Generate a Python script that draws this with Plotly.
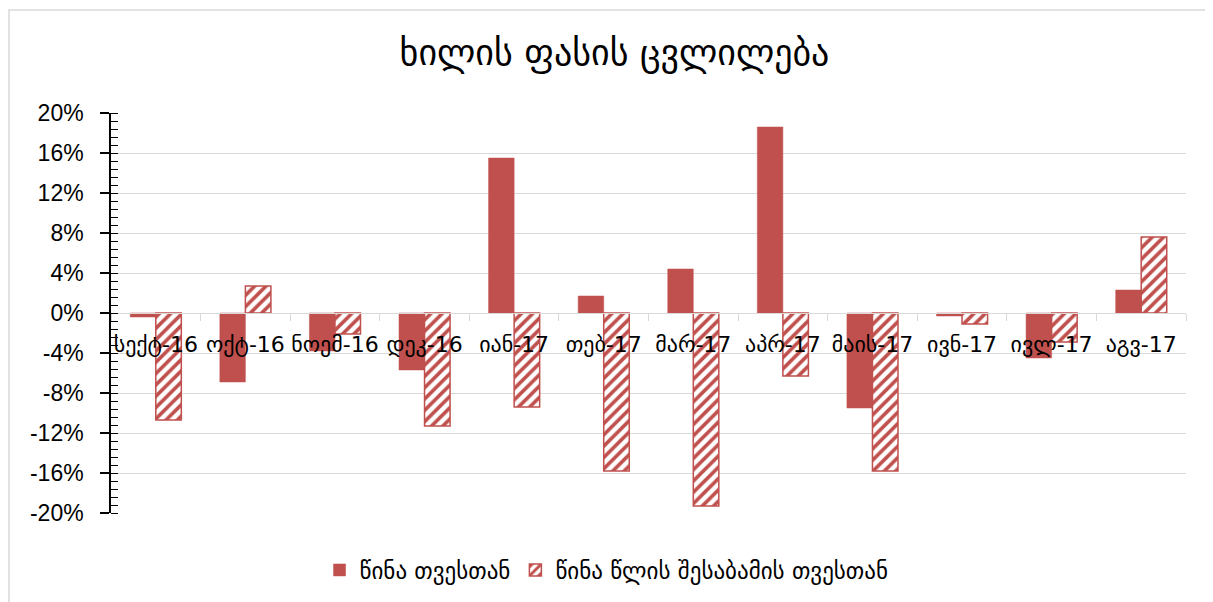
import plotly.graph_objects as go

categories = ["სექტ-16", "ოქტ-16", "ნოემ-16", "დეკ-16", "იან-17", "თებ-17",
              "მარ-17", "აპრ-17", "მაის-17", "ივნ-17", "ივლ-17", "აგვ-17"]
mom_change = [-0.4, -6.9, -3.8, -5.7, 15.5, 1.7, 4.4, 18.6, -9.5, -0.3, -4.5, 2.3]
yoy_change = [-10.7, 2.7, -2.1, -11.3, -9.4, -15.8, -19.3, -6.3, -15.8, -1.1, -2.9, 7.6]
series_names = ["წინა თვესთან", "წინა წლის შესაბამის თვესთან"]
title_text = "ხილის ფასის ცვლილება"
y_ticks = [-20, -16, -12, -8, -4, 0, 4, 8, 12, 16, 20]
y_tick_labels = ["-20%", "-16%", "-12%", "-8%", "-4%", "0%", "4%", "8%", "12%", "16%", "20%"]

RED = "#C0504D"
GEO_FONT = "DejaVu Sans"
NUM_FONT = "Liberation Sans"

fig = go.Figure()
fig.add_trace(go.Bar(
    x=categories, y=mom_change, name=series_names[0],
    marker=dict(color=RED, line=dict(color=RED, width=0.5)),
))
fig.add_trace(go.Bar(
    x=categories, y=yoy_change, name=series_names[1],
    marker=dict(color="white", line=dict(color=RED, width=1.5),
                pattern=dict(shape="/", fgcolor=RED, bgcolor="white",
                             size=8, solidity=0.45, fillmode="replace")),
))

fig.update_layout(
    width=1213, height=602,
    paper_bgcolor="white", plot_bgcolor="white",
    margin=dict(l=103, r=35, t=105, b=97),
    barmode="group", bargap=0.43, bargroupgap=0,
    title=dict(text=title_text, x=0.5, xanchor="center", y=0.927, yanchor="middle",
               font=dict(family=GEO_FONT, size=36, color="black")),
    font=dict(family=GEO_FONT, color="black"),
    showlegend=True,
    legend=dict(orientation="h", x=0.194, xanchor="left", y=-0.1425, yanchor="middle",
                font=dict(family=GEO_FONT, size=23, color="black"),
                bgcolor="rgba(0,0,0,0)"),
    xaxis=dict(
        type="category", anchor="free", position=0.5,
        showline=True, linecolor="#d9d9d9", linewidth=1.3,
        ticks="outside", tickson="boundaries", ticklen=7, tickcolor="#d9d9d9",
        tickwidth=1.3, ticklabelstandoff=11, tickangle=0,
        tickfont=dict(family=GEO_FONT, size=22, color="black"),
        showgrid=False, zeroline=False,
    ),
    yaxis=dict(
        range=[-20, 20], tickvals=y_ticks, ticktext=y_tick_labels,
        tickfont=dict(family=NUM_FONT, size=23, color="black"),
        ticklabelstandoff=12,
        showline=True, linecolor="black", linewidth=1.5,
        ticks="outside", ticklen=9, tickcolor="black", tickwidth=1.5,
        showgrid=True, gridcolor="#d9d9d9", gridwidth=1.3,
        zeroline=False,
        minor=dict(dtick=0.8, ticks="inside", ticklen=7, tickcolor="black",
                   tickwidth=1.2, showgrid=False),
    ),
    yaxis2=dict(
        overlaying="y", anchor="x", side="left", range=[-20, 20],
        tickvals=y_ticks, showticklabels=False,
        ticks="inside", ticklen=9, tickcolor="black", tickwidth=1.5,
        showgrid=False, zeroline=False, showline=False,
    ),
    shapes=[dict(type="rect", xref="paper", yref="paper",
                 x0=-0.0949, x1=1.2, y0=-0.5, y1=1.2575,
                 line=dict(color="#d9d9d9", width=1.5), fillcolor="rgba(0,0,0,0)",
                 layer="below")],
)

fig.write_html("out.html")
